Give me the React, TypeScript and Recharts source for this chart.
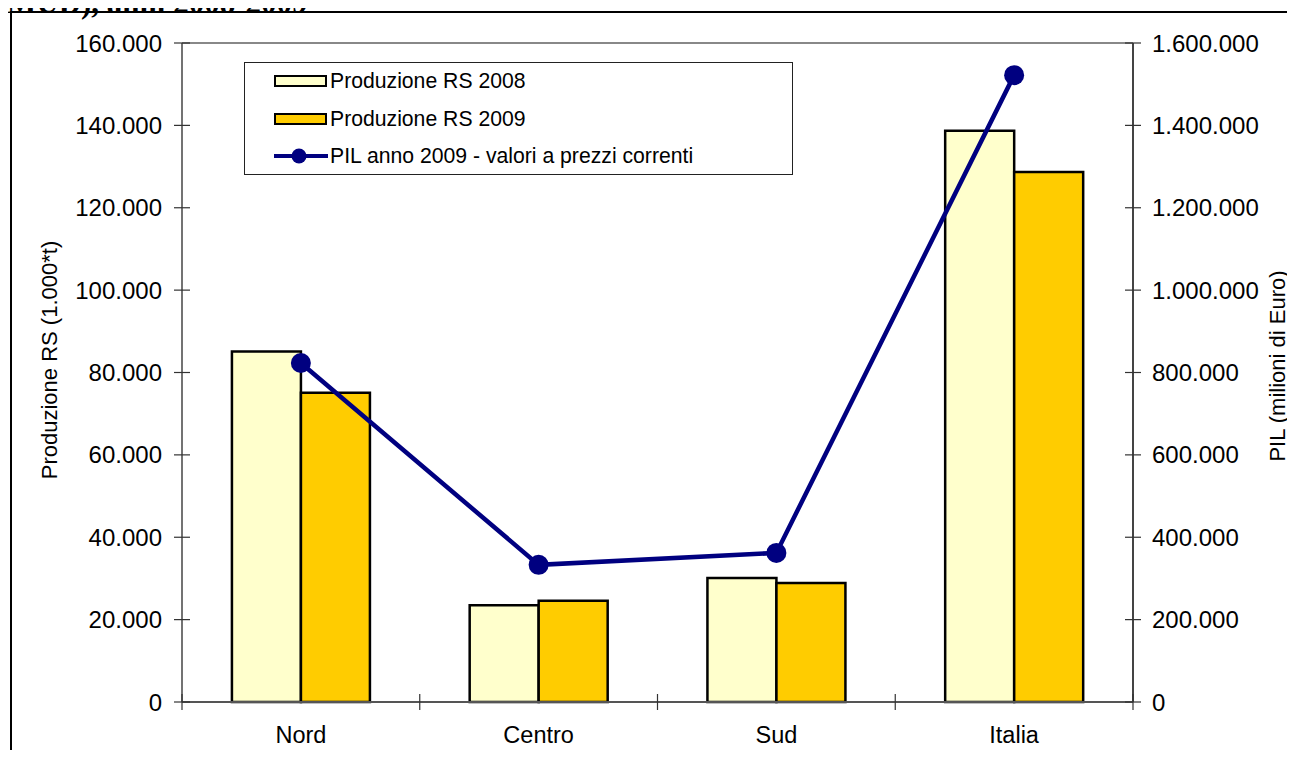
import React from 'react';
import { ComposedChart, Bar, Line, XAxis, YAxis, Legend, ReferenceLine } from 'recharts';

const categories = ['Nord', 'Centro', 'Sud', 'Italia'];
const rs2008 = [85100, 23500, 30100, 138700];
const rs2009 = [75100, 24600, 28900, 128700];
const pil2009 = [823000, 333000, 362000, 1522000];
const leftTicks = [0, 20000, 40000, 60000, 80000, 100000, 120000, 140000, 160000];
const rightTicks = [0, 200000, 400000, 600000, 800000, 1000000, 1200000, 1400000, 1600000];
const seriesNames = ['Produzione RS 2008', 'Produzione RS 2009', 'PIL anno 2009 - valori a prezzi correnti'];

const data = categories.map((c, i) => ({
  name: c,
  rs2008: rs2008[i],
  rs2009: rs2009[i],
  pil: pil2009[i],
}));

const FONT = '"Liberation Sans", Arial, sans-serif';
const PLOT_LEFT = 182;
const PLOT_RIGHT = 1133;
const PLOT_TOP = 43;
const PLOT_BOTTOM = 702;
const BAND = (PLOT_RIGHT - PLOT_LEFT) / categories.length;

const fmt = (v: number) => String(v).replace(/\B(?=(\d{3})+(?!\d))/g, '.');

const LeftTick = (props: any) => {
  const { y, payload } = props;
  return (
    <g>
      <line x1={PLOT_LEFT - 8} x2={PLOT_LEFT + 8} y1={y} y2={y} stroke="#333" strokeWidth={1.2} />
      <text x={PLOT_LEFT - 20} y={y} textAnchor="end" dominantBaseline="central" fontSize={24} fontFamily={FONT} fill="#000">
        {fmt(payload.value)}
      </text>
    </g>
  );
};

const RightTick = (props: any) => {
  const { y, payload } = props;
  return (
    <g>
      <line x1={PLOT_RIGHT - 8} x2={PLOT_RIGHT + 8} y1={y} y2={y} stroke="#333" strokeWidth={1.2} />
      <text x={PLOT_RIGHT + 19} y={y} textAnchor="start" dominantBaseline="central" fontSize={24} fontFamily={FONT} fill="#000">
        {fmt(payload.value)}
      </text>
    </g>
  );
};

const CatTick = (props: any) => {
  const { x, payload, index } = props;
  const left = x - BAND / 2;
  return (
    <g>
      <line x1={left} x2={left} y1={PLOT_BOTTOM - 8} y2={PLOT_BOTTOM + 8} stroke="#333" strokeWidth={1.2} />
      {index === categories.length - 1 && (
        <line x1={x + BAND / 2} x2={x + BAND / 2} y1={PLOT_BOTTOM - 8} y2={PLOT_BOTTOM + 8} stroke="#333" strokeWidth={1.2} />
      )}
      <text x={x} y={PLOT_BOTTOM + 33} textAnchor="middle" dominantBaseline="central" fontSize={23.5} fontFamily={FONT} fill="#000">
        {payload.value}
      </text>
    </g>
  );
};

const LegendBox = (props: any) => {
  const items = [...(props.payload || [])].sort(
    (a: any, b: any) => seriesNames.indexOf(a.value) - seriesNames.indexOf(b.value)
  );
  return (
    <div
      style={{
        position: 'relative',
        width: 549,
        height: 113,
        border: '1px solid #222',
        boxSizing: 'border-box',
        background: '#fff',
        fontFamily: FONT,
        fontSize: 21.2,
      }}
    >
      {items.map((it: any, i: number) => (
        <div key={i} style={{ position: 'absolute', left: 28, top: 18 + i * 37.5 - 15, height: 30, display: 'flex', alignItems: 'center' }}>
          <svg width={57} height={30} style={{ display: 'block' }}>
            {it.type === 'line' ? (
              <g>
                <line x1={1} x2={55} y1={15} y2={15} stroke={it.color} strokeWidth={4} />
                <circle cx={26} cy={15} r={7.5} fill={it.color} />
              </g>
            ) : (
              <rect x={2} y={10} width={51} height={10} fill={it.color} stroke="#000" strokeWidth={2} />
            )}
          </svg>
          <span style={{ whiteSpace: 'nowrap' }}>{it.value}</span>
        </div>
      ))}
    </div>
  );
};

export default function App() {
  return (
    <div style={{ position: 'relative', margin: -8, width: 1295, height: 758, overflow: 'hidden', background: '#fff' }}>
      <div
        style={{
          position: 'absolute',
          left: 7,
          top: -13,
          fontFamily: '"Liberation Serif", "Times New Roman", serif',
          fontWeight: 'bold',
          fontSize: 31,
          lineHeight: '31px',
          whiteSpace: 'nowrap',
        }}
      >
        MUD), anni 2008-2009
      </div>
      <div
        style={{
          position: 'absolute',
          left: 10,
          top: 11,
          width: 1300,
          height: 800,
          borderLeft: '2px solid #000',
          borderTop: '2px solid #000',
        }}
      />
      <div style={{ position: 'absolute', left: 0, top: 0 }}>
        <ComposedChart
          width={1295}
          height={758}
          data={data}
          margin={{ top: PLOT_TOP, bottom: 758 - PLOT_BOTTOM - 50, left: PLOT_LEFT - 150, right: 1295 - PLOT_RIGHT - 150 }}
          barCategoryGap="21%"
          barGap={0}
        >
          <XAxis dataKey="name" height={50} tick={<CatTick />} tickLine={false} axisLine={{ stroke: '#555', strokeWidth: 2 }} interval={0} />
          <YAxis
            yAxisId="left"
            width={150}
            domain={[0, 160000]}
            ticks={leftTicks}
            tick={<LeftTick />}
            tickLine={false}
            axisLine={{ stroke: '#444', strokeWidth: 1.5 }}
            label={{
              content: () => (
                <text x={49} y={360} transform="rotate(-90 49 360)" textAnchor="middle" dominantBaseline="central" fontSize={22} fontFamily={FONT} fill="#000">
                  Produzione RS (1.000*t)
                </text>
              ),
            }}
          />
          <YAxis
            yAxisId="right"
            orientation="right"
            width={150}
            domain={[0, 1600000]}
            ticks={rightTicks}
            tick={<RightTick />}
            tickLine={false}
            axisLine={{ stroke: '#444', strokeWidth: 2 }}
            label={{
              content: () => (
                <text x={1277} y={366} transform="rotate(-90 1277 366)" textAnchor="middle" dominantBaseline="central" fontSize={22} fontFamily={FONT} fill="#000">
                  PIL (milioni di Euro)
                </text>
              ),
            }}
          />
          <ReferenceLine yAxisId="left" y={160000} stroke="#888" strokeWidth={2} />
          <Legend
            layout="vertical"
            align="center"
            verticalAlign="middle"
            content={<LegendBox />}
            wrapperStyle={{ left: 244, top: 62, width: 549, height: 113 }}
          />
          <Bar yAxisId="left" dataKey="rs2008" name={seriesNames[0]} fill="#FFFFCC" stroke="#000" strokeWidth={2.5} isAnimationActive={false} />
          <Bar yAxisId="left" dataKey="rs2009" name={seriesNames[1]} fill="#FFCC00" stroke="#000" strokeWidth={2.5} isAnimationActive={false} />
          <Line
            yAxisId="right"
            dataKey="pil"
            name={seriesNames[2]}
            type="linear"
            stroke="#000080"
            strokeWidth={4.5}
            dot={{ r: 10, fill: '#000080', stroke: '#000080', strokeWidth: 0 }}
            legendType="line"
            isAnimationActive={false}
          />
        </ComposedChart>
      </div>
    </div>
  );
}
